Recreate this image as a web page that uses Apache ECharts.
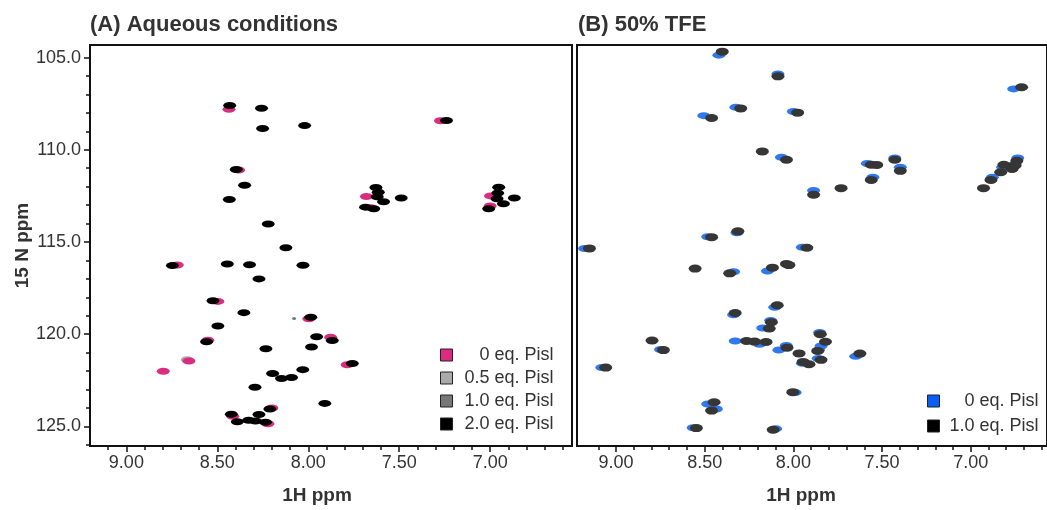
<!DOCTYPE html>
<html>
<head>
<meta charset="utf-8">
<script src="https://cdn.jsdelivr.net/npm/echarts@6/dist/echarts.min.js"></script>
<style>
html,body{margin:0;padding:0;background:#fff;}
#chart{width:1047px;height:510px;}
</style>
</head>
<body>
<div id="chart"></div>
<script>
// ---- tick values ----
const xTicksMajor = [9.0, 8.5, 8.0, 7.5, 7.0];
const xTicksMinor = [9.1, 8.9, 8.8, 8.7, 8.6, 8.4, 8.3, 8.2, 8.1, 7.9, 7.8, 7.7, 7.6, 7.4, 7.3, 7.2, 7.1, 6.9, 6.8, 6.7, 6.6];
const yTicksMajor = [105, 110, 115, 120, 125];
const yTicksMinor = [106, 107, 108, 109, 111, 112, 113, 114, 116, 117, 118, 119, 121, 122, 123, 124, 126];

// ---- panel A: aqueous, peaks as [1H ppm, 15N ppm] ----
const aq2_0 = [
  [8.432,107.60],[8.257,107.75],[8.251,108.85],[8.020,108.69],[7.240,108.41],
  [8.396,111.07],[8.350,111.92],[8.434,112.70],
  [7.621,112.55],[7.628,112.05],[7.685,113.11],[7.640,113.20],[7.586,112.82],[7.615,112.30],
  [7.489,112.62],
  [6.962,112.66],[6.953,112.03],[7.008,113.20],[6.927,112.93],[6.958,112.35],
  [6.867,112.62],
  [8.220,114.02],[8.123,115.31],
  [8.747,116.28],[8.445,116.19],[8.323,116.23],[8.029,116.26],[8.271,117.00],
  [8.524,118.19],[8.354,118.83],[7.986,119.08],[8.497,119.55],[8.559,120.41],[7.954,120.14],
  [7.868,120.34],[7.982,120.69],[8.233,120.79],[7.758,121.59],
  [8.196,122.13],[8.147,122.40],[8.092,122.35],[8.030,121.92],[8.293,122.88],[7.909,123.75],
  [8.211,124.05],[8.423,124.34],[8.271,124.35],[8.390,124.74],[8.328,124.66],[8.235,124.77],[8.290,124.71]
];
const aq0 = [
  [8.436,107.81],[7.273,108.43],[8.383,111.10],[8.720,116.25],[8.497,118.22],[7.997,119.16],
  [8.552,120.33],[7.877,120.16],[8.656,121.45],[8.797,122.01],[7.786,121.66],
  [7.680,112.53],[7.655,113.15],[6.998,112.50],[7.000,113.05],
  [8.415,124.45],[8.200,124.00],[8.222,124.85]
];
const aq0_5 = [[8.665,121.38]];
const aq1_0 = [[8.078,119.15]];

// ---- panel B: 50% TFE ----
const tfe0 = [
  [8.420,104.87],[8.087,105.89],[6.758,106.70],[8.324,107.69],[8.505,108.15],[8.000,107.92],
  [8.067,110.41],[7.583,110.74],[7.428,110.45],[7.397,110.95],[7.552,111.49],[7.886,112.21],
  [6.735,110.45],[6.755,110.80],[6.820,110.95],[6.878,111.49],
  [8.318,114.50],[8.483,114.72],[9.177,115.35],[7.949,115.29],[8.337,116.61],[8.146,116.57],
  [8.105,118.54],[8.337,118.94],[8.128,119.26],[8.173,119.66],[7.852,119.90],
  [8.749,120.83],[8.328,120.37],[8.191,120.55],[8.040,120.61],[8.082,120.86],[7.844,120.64],
  [7.858,120.85],[7.649,121.20],[7.860,121.32],[7.949,121.58],
  [9.080,121.81],[7.990,123.16],[8.483,123.78],[8.434,124.05],[8.565,125.07],[8.100,125.13]
];
const tfe1_0 = [
  [8.401,104.68],[8.087,106.02],[6.713,106.61],[8.297,107.76],[8.461,108.28],[7.976,107.99],
  [8.175,110.09],[8.039,110.54],[7.561,110.81],[7.530,110.82],[7.428,110.54],[7.397,111.14],
  [7.561,111.64],[7.886,112.44],[7.731,112.08],
  [6.740,110.60],[6.767,111.04],[6.813,110.81],[6.831,111.22],[6.886,111.64],[6.928,112.08],[6.750,110.85],
  [8.313,114.42],[8.461,114.74],[9.150,115.35],[7.924,115.31],[8.554,116.44],[8.359,116.70],
  [8.118,116.39],[8.039,116.19],[8.025,116.25],
  [8.091,118.43],[8.328,118.85],[8.124,119.35],[8.136,119.69],[7.848,120.00],
  [8.797,120.34],[8.733,120.86],[8.264,120.37],[8.219,120.40],[8.154,120.42],[8.036,120.73],
  [7.968,121.04],[7.819,120.41],[7.863,120.91],[7.625,121.05],[7.844,121.39],[7.912,121.63],[7.945,121.50],
  [9.058,121.81],[8.003,123.14],[8.447,123.69],[8.461,124.14],[8.547,125.09],[8.114,125.18]
];

const FONT = '"Liberation Sans", Arial, sans-serif';
const TXT = '#333';
const AX = '#111';
const PINK = '#db2d7f', LGRAY = '#aaaaaa', MGRAY = '#777777', BLACK = '#000000';
const BLUE = '#2f78f0', DARK = '#363636';

const chart = echarts.init(document.getElementById('chart'), null, {renderer: 'canvas'});

function xMajor(grid, min, max, nameShift) {
  return {
    type: 'value', gridIndex: grid, inverse: true, min: min, max: max, position: 'bottom',
    name: '1H ppm', nameLocation: 'middle', nameGap: 40,
    nameTextStyle: {fontFamily: FONT, fontSize: 19, fontWeight: 'bold', color: TXT, padding: [0, nameShift, 0, 0]},
    axisLine: {show: true, onZero: false, lineStyle: {color: AX, width: 2}},
    axisTick: {show: true, length: 6, customValues: xTicksMajor, lineStyle: {color: AX, width: 1.5}},
    axisLabel: {show: true, margin: 8, customValues: xTicksMajor, fontFamily: FONT, fontSize: 18, color: TXT,
      formatter: v => v.toFixed(2)},
    splitLine: {show: false}
  };
}
function xMinor(grid, min, max) {
  return {
    type: 'value', gridIndex: grid, inverse: true, min: min, max: max, position: 'bottom',
    axisLine: {show: false, onZero: false},
    axisTick: {show: true, length: 4, customValues: xTicksMinor, lineStyle: {color: AX, width: 1.5}},
    axisLabel: {show: false}, splitLine: {show: false}
  };
}
const yMin = 104.32, yMax = 126.06;

const option = {
  animation: false,
  backgroundColor: '#fff',
  title: [
    {text: '(A) Aqueous conditions', left: 90, top: 14, padding: 0,
      textStyle: {fontFamily: FONT, fontSize: 22, fontWeight: 'bold', color: TXT}},
    {text: '(B) 50% TFE', left: 578, top: 14, padding: 0,
      textStyle: {fontFamily: FONT, fontSize: 22, fontWeight: 'bold', color: TXT}}
  ],
  grid: [
    {left: 90, top: 45, width: 482, height: 404, show: true, borderColor: AX, borderWidth: 2, backgroundColor: 'transparent'},
    {left: 577, top: 45, width: 482, height: 404, show: true, borderColor: AX, borderWidth: 2, backgroundColor: 'transparent'}
  ],
  xAxis: [
    xMajor(0, 6.55, 9.2, 28), xMinor(0, 6.55, 9.2),
    xMajor(1, 6.57, 9.22, 22), xMinor(1, 6.57, 9.22)
  ],
  yAxis: [
    {type: 'value', gridIndex: 0, inverse: true, min: yMin, max: yMax, position: 'left',
      name: '15 N ppm', nameLocation: 'middle', nameGap: 58,
      nameTextStyle: {fontFamily: FONT, fontSize: 19, fontWeight: 'bold', color: TXT},
      axisLine: {show: true, onZero: false, lineStyle: {color: AX, width: 2}},
      axisTick: {show: true, length: 6, customValues: yTicksMajor, lineStyle: {color: AX, width: 1.5}},
      axisLabel: {show: true, margin: 9, customValues: yTicksMajor, fontFamily: FONT, fontSize: 18, color: TXT,
        formatter: v => v.toFixed(1)},
      splitLine: {show: false}},
    {type: 'value', gridIndex: 0, inverse: true, min: yMin, max: yMax, position: 'left', offset: 0,
      axisLine: {show: false, onZero: false},
      axisTick: {show: true, length: 4, customValues: yTicksMinor, lineStyle: {color: AX, width: 1.5}},
      axisLabel: {show: false}, splitLine: {show: false}},
    {type: 'value', gridIndex: 1, inverse: true, min: yMin, max: yMax, position: 'left',
      axisLine: {show: true, onZero: false, lineStyle: {color: AX, width: 2}},
      axisTick: {show: false}, axisLabel: {show: false}, splitLine: {show: false}}
  ],
  legend: [
    {
      orient: 'vertical', left: 440, top: 346, padding: 0, itemGap: 5,
      itemWidth: 12, itemHeight: 12, icon: 'rect', selectedMode: false,
      itemStyle: {borderColor: '#222', borderWidth: 1},
      data: [
        {name: '0 eq. Pisl', itemStyle: {color: PINK}},
        {name: '0.5 eq. Pisl', itemStyle: {color: LGRAY}},
        {name: '1.0 eq. Pisl', itemStyle: {color: MGRAY}},
        {name: '2.0 eq. Pisl', itemStyle: {color: BLACK}}
      ],
      formatter: n => '{a|' + n + '}',
      textStyle: {rich: {a: {width: 96, align: 'right', fontFamily: FONT, fontSize: 18, color: TXT, lineHeight: 18}}}
    },
    {
      orient: 'vertical', left: 927, top: 392, padding: 0, itemGap: 7,
      itemWidth: 12, itemHeight: 12, icon: 'rect', selectedMode: false,
      itemStyle: {borderColor: '#222', borderWidth: 1},
      data: [
        {name: 'TFE 0 eq. Pisl', itemStyle: {color: '#0a5ef5'}},
        {name: 'TFE 1.0 eq. Pisl', itemStyle: {color: BLACK}}
      ],
      formatter: n => '{a|' + n.replace('TFE ', '') + '}',
      textStyle: {rich: {a: {width: 94, align: 'right', fontFamily: FONT, fontSize: 18, color: TXT, lineHeight: 18}}}
    }
  ],
  series: [
    {type: 'scatter', name: '0.5 eq. Pisl', data: aq0_5, xAxisIndex: 0, yAxisIndex: 0, symbol: 'circle', symbolSize: [13, 7], itemStyle: {color: LGRAY, opacity: 1}, silent: true, z: 2},
    {type: 'scatter', name: '1.0 eq. Pisl', data: aq1_0, xAxisIndex: 0, yAxisIndex: 0, symbol: 'circle', symbolSize: [4, 3], itemStyle: {color: MGRAY, opacity: 1}, silent: true, z: 3},
    {type: 'scatter', name: '0 eq. Pisl', data: aq0, xAxisIndex: 0, yAxisIndex: 0, symbol: 'circle', symbolSize: [13, 7], itemStyle: {color: PINK, opacity: 1}, silent: true, z: 4},
    {type: 'scatter', name: '2.0 eq. Pisl', data: aq2_0, xAxisIndex: 0, yAxisIndex: 0, symbol: 'circle', symbolSize: [13, 7], itemStyle: {color: BLACK, opacity: 1}, silent: true, z: 5},
    {type: 'scatter', name: 'TFE 0 eq. Pisl', data: tfe0, xAxisIndex: 2, yAxisIndex: 2, symbol: 'circle', symbolSize: [13, 7], itemStyle: {color: BLUE, opacity: 1}, silent: true, z: 4},
    {type: 'scatter', name: 'TFE 1.0 eq. Pisl', data: tfe1_0, xAxisIndex: 2, yAxisIndex: 2, symbol: 'circle', symbolSize: [13, 8], itemStyle: {color: DARK, opacity: 1}, silent: true, z: 5}
  ]
};
chart.setOption(option);
</script>
</body>
</html>
